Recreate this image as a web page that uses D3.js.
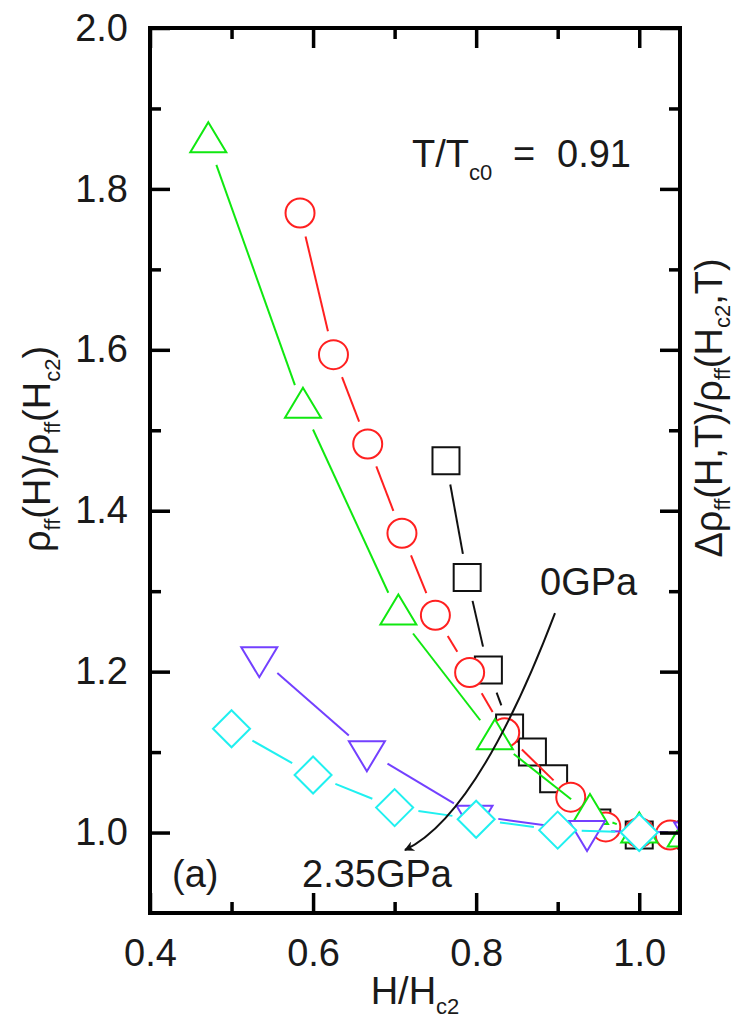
<!DOCTYPE html>
<html>
<head>
<meta charset="utf-8">
<script src="https://cdn.jsdelivr.net/npm/d3@7"></script>
<style>
  html, body { margin: 0; padding: 0; background: #fff; }
  svg text { font-family: "Liberation Sans", Arial, Helvetica, sans-serif; fill: #1a1a1a; }
</style>
</head>
<body>
<svg id="chart" width="740" height="1023"></svg>
<script>
// Reduced field H/Hc2 and normalized flux-flow resistivity rho_ff(H)/rho_ff(Hc2)
const squaresH   = [0.763, 0.789, 0.815, 0.841, 0.869, 0.895, 0.948, 1.000, 1.064];
const squaresRho = [1.462, 1.317, 1.202, 1.130, 1.100, 1.067, 1.012, 0.997, 0.997];

const circlesH   = [0.584, 0.625, 0.667, 0.709, 0.750, 0.792, 0.835, 0.916, 0.959, 1.000, 1.038];
const circlesRho = [1.770, 1.594, 1.483, 1.372, 1.270, 1.199, 1.124, 1.044, 1.007, 1.000, 0.997];

const upTriH     = [0.4715, 0.5876, 0.7046, 0.823, 0.9396, 1.000, 1.057];
const upTriRho   = [1.858, 1.528, 1.271, 1.116, 1.023, 1.000, 0.995];

const downTriH   = [0.534, 0.666, 0.798, 0.936, 1.065];
const downTriRho = [1.218, 1.101, 1.021, 1.002, 1.000];

const diamondsH   = [0.500, 0.600, 0.700, 0.800, 0.900, 1.000, 1.100];
const diamondsRho = [1.129, 1.0715, 1.031, 1.0165, 1.003, 1.000, 0.998];

// Axis ticks
const xMajorTicks = [0.4, 0.6, 0.8, 1.0];
const xMinorTicks = [0.5, 0.7, 0.9];
const yMajorTicks = [1.0, 1.2, 1.4, 1.6, 1.8, 2.0];
const yMinorTicks = [1.1, 1.3, 1.5, 1.7, 1.9];

// Pressure arrow (data units): start, control point, tip
const arrowStart = [0.8967, 1.2728];
const arrowCtrl  = [0.8023, 1.0218];
const arrowTip   = [0.7127, 0.9783];

const plotLeft = 150, plotRight = 680, plotTop = 28, plotBottom = 913;

const svg = d3.select("#chart");
const x = d3.scaleLinear().domain([0.4, 1.05]).range([plotLeft, plotRight]);
const y = d3.scaleLinear().domain([0.9, 2.0]).range([plotBottom, plotTop]);

// marker shapes (centred on the data point)
const shapes = {
  square:  "M-13.5,-13.5H13.5V13.5H-13.5Z",
  circle:  "M14.5,0A14.5,14.5 0 1,1 -14.5,0A14.5,14.5 0 1,1 14.5,0Z",
  up:      "M0,-20L18,10L-18,10Z",
  down:    "M0,20L18,-10L-18,-10Z",
  diamond: "M0,-18.5L18.5,0L0,18.5L-18.5,0Z"
};

const series = [
  { name: "squares",  xs: squaresH,  ys: squaresRho,  color: "#111111", shape: "square" },
  { name: "circles",  xs: circlesH,  ys: circlesRho,  color: "#ff2020", shape: "circle" },
  { name: "upTri",    xs: upTriH,    ys: upTriRho,    color: "#10e810", shape: "up" },
  { name: "downTri",  xs: downTriH,  ys: downTriRho,  color: "#7340ff", shape: "down" },
  { name: "diamonds", xs: diamondsH, ys: diamondsRho, color: "#20f0f0", shape: "diamond" }
];

const defs = svg.append("defs");
defs.append("clipPath").attr("id", "plotClip")
  .append("rect").attr("x", plotLeft).attr("y", plotTop)
  .attr("width", plotRight - plotLeft).attr("height", plotBottom - plotTop);

const plot = svg.append("g").attr("clip-path", "url(#plotClip)");
const gap = 24;

series.forEach(s => {
  const pts = s.xs.map((v, i) => [x(v), y(s.ys[i])]);
  const g = plot.append("g").attr("class", "series-" + s.name);
  // connecting segments, interrupted around each marker
  const segs = [];
  for (let i = 0; i < pts.length - 1; i++) {
    const [x0, y0] = pts[i], [x1, y1] = pts[i + 1];
    const d = Math.hypot(x1 - x0, y1 - y0);
    if (d <= 2 * gap) continue;
    const ux = (x1 - x0) / d, uy = (y1 - y0) / d;
    segs.push([x0 + ux * gap, y0 + uy * gap, x1 - ux * gap, y1 - uy * gap]);
  }
  g.selectAll("line").data(segs).join("line")
    .attr("x1", d => d[0]).attr("y1", d => d[1])
    .attr("x2", d => d[2]).attr("y2", d => d[3])
    .attr("stroke", s.color).attr("stroke-width", 2);
  g.selectAll("path").data(pts).join("path")
    .attr("d", shapes[s.shape])
    .attr("transform", d => `translate(${d[0]},${d[1]})`)
    .attr("fill", "#fff").attr("stroke", s.color).attr("stroke-width", 2);
});

// axes
const fmt = d3.format(".1f");
function styleAxis(g) {
  g.select(".domain").remove();
  g.selectAll(".tick line").attr("stroke", "#000").attr("stroke-width", 3.5);
  g.selectAll(".tick text").style("font-size", "38px").attr("fill", "#1a1a1a");
}
svg.append("g").attr("transform", `translate(0,${plotBottom})`)
  .call(d3.axisBottom(x).tickValues(xMajorTicks).tickSize(-20).tickPadding(26).tickFormat(fmt))
  .call(styleAxis);
svg.append("g").attr("transform", `translate(0,${plotBottom})`)
  .call(d3.axisBottom(x).tickValues(xMinorTicks).tickSize(-11).tickFormat(""))
  .call(styleAxis);
svg.append("g").attr("transform", `translate(0,${plotTop})`)
  .call(d3.axisTop(x).tickValues(xMajorTicks).tickSize(-20).tickFormat(""))
  .call(styleAxis);
svg.append("g").attr("transform", `translate(0,${plotTop})`)
  .call(d3.axisTop(x).tickValues(xMinorTicks).tickSize(-11).tickFormat(""))
  .call(styleAxis);
svg.append("g").attr("transform", `translate(${plotLeft},0)`)
  .call(d3.axisLeft(y).tickValues(yMajorTicks).tickSize(-20).tickPadding(22).tickFormat(fmt))
  .call(styleAxis);
svg.append("g").attr("transform", `translate(${plotLeft},0)`)
  .call(d3.axisLeft(y).tickValues(yMinorTicks).tickSize(-11).tickFormat(""))
  .call(styleAxis);
svg.append("g").attr("transform", `translate(${plotRight},0)`)
  .call(d3.axisRight(y).tickValues(yMajorTicks).tickSize(-20).tickFormat(""))
  .call(styleAxis);
svg.append("g").attr("transform", `translate(${plotRight},0)`)
  .call(d3.axisRight(y).tickValues(yMinorTicks).tickSize(-11).tickFormat(""))
  .call(styleAxis);

svg.append("rect").attr("x", plotLeft).attr("y", plotTop)
  .attr("width", plotRight - plotLeft).attr("height", plotBottom - plotTop)
  .attr("fill", "none").attr("stroke", "#000").attr("stroke-width", 4);

// pressure arrow
defs.append("marker")
  .attr("id", "arrowHead").attr("viewBox", "0 0 10 10")
  .attr("refX", 9).attr("refY", 5)
  .attr("markerWidth", 14).attr("markerHeight", 10)
  .attr("markerUnits", "userSpaceOnUse")
  .attr("orient", "auto")
  .append("path").attr("d", "M0,0L10,5L0,10L3,5Z").attr("fill", "#111");

const arrowPath = d3.path();
arrowPath.moveTo(x(arrowStart[0]), y(arrowStart[1]));
arrowPath.quadraticCurveTo(x(arrowCtrl[0]), y(arrowCtrl[1]), x(arrowTip[0]), y(arrowTip[1]));
svg.append("path").attr("d", arrowPath.toString())
  .attr("fill", "none").attr("stroke", "#111").attr("stroke-width", 2)
  .attr("marker-end", "url(#arrowHead)");

// annotations
svg.append("text").attr("x", 540).attr("y", 595).style("font-size", "38px").text("0GPa");
svg.append("text").attr("x", 302).attr("y", 887).style("font-size", "38px").text("2.35GPa");
svg.append("text").attr("x", 172).attr("y", 887).style("font-size", "38px").text("(a)");

const tt = svg.append("text").attr("x", 412).attr("y", 167).style("font-size", "38px");
tt.append("tspan").text("T/T");
tt.append("tspan").attr("dy", 13).style("font-size", "22px").text("c0");
svg.append("text").attr("x", 513).attr("y", 167).style("font-size", "38px").text("=");
svg.append("text").attr("x", 557).attr("y", 167).style("font-size", "38px").text("0.91");

// axis titles
const xt = svg.append("text").attr("x", 415).attr("y", 1004)
  .attr("text-anchor", "middle").style("font-size", "38px");
xt.append("tspan").text("H/H");
xt.append("tspan").attr("dy", 10).style("font-size", "22px").text("c2");

const yt = svg.append("text").attr("transform", "translate(50,449) rotate(-90)")
  .attr("text-anchor", "middle").style("font-size", "38px");
yt.append("tspan").text("ρ");
yt.append("tspan").attr("dy", 10).style("font-size", "22px").text("ff");
yt.append("tspan").attr("dy", -10).text("(H)/ρ");
yt.append("tspan").attr("dy", 10).style("font-size", "22px").text("ff");
yt.append("tspan").attr("dy", -10).text("(H");
yt.append("tspan").attr("dy", 10).style("font-size", "22px").text("c2");
yt.append("tspan").attr("dy", -10).text(")");

const rt = svg.append("text").attr("transform", "translate(722,408) rotate(-90)")
  .attr("text-anchor", "middle").style("font-size", "38px");
rt.append("tspan").text("Δρ");
rt.append("tspan").attr("dy", 8).style("font-size", "22px").text("ff");
rt.append("tspan").attr("dy", -8).text("(H,T)/ρ");
rt.append("tspan").attr("dy", 8).style("font-size", "22px").text("ff");
rt.append("tspan").attr("dy", -8).text("(H");
rt.append("tspan").attr("dy", 8).style("font-size", "22px").text("c2");
rt.append("tspan").attr("dy", -8).text(",T)");
</script>
</body>
</html>
